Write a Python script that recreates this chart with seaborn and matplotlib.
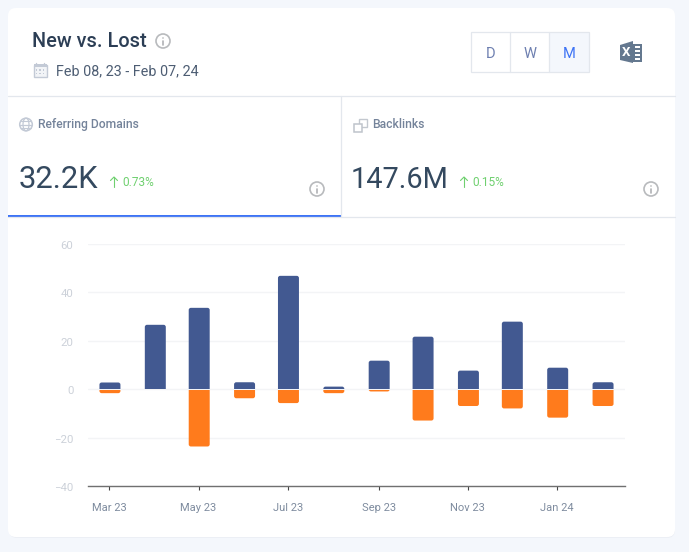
import matplotlib
matplotlib.use('Agg')
import matplotlib.dates as mdates
import matplotlib.pyplot as plt
import pandas as pd
import seaborn as sns
from matplotlib.patches import Circle, Ellipse, FancyBboxPatch, Polygon, Rectangle
from matplotlib.transforms import ScaledTranslation

months = ['2023-03-01', '2023-04-01', '2023-05-01', '2023-06-01', '2023-07-01', '2023-08-01',
          '2023-09-01', '2023-10-01', '2023-11-01', '2023-12-01', '2024-01-01', '2024-02-01']
new_domains = [2.7, 26.5, 33.5, 2.8, 46.7, 1, 11.7, 21.6, 7.6, 27.8, 8.8, 2.8]
lost_domains = [-1.7, 0, -23.7, -3.8, -5.8, -1.7, -1, -13, -7, -8, -11.8, -7]
y_ticks = [-40, -20, 0, 20, 40, 60]

BLUE = '#425991'
ORANGE = '#ff7b1c'
W, H = 689, 552

sns.set_theme(style='white')
plt.rcParams['font.family'] = ['Roboto', 'DejaVu Sans']

df = pd.DataFrame({'month': pd.to_datetime(months), 'new': new_domains, 'lost': lost_domains})
df['day'] = mdates.date2num(df['month'])

fig = plt.figure(figsize=(W / 100, H / 100), dpi=100, facecolor='#f4f7fc')

# page furniture lives on one full size axes, in pixel coordinates
ui = fig.add_axes([0, 0, 1, 1], zorder=0)
ui.set_xlim(0, W)
ui.set_ylim(H, 0)
ui.axis('off')

ui.add_patch(FancyBboxPatch((9, 10), 666, 528, boxstyle='round,pad=0,rounding_size=8',
                            fc='#eceff5', ec='none'))
ui.add_patch(FancyBboxPatch((8, 8), 667, 529, boxstyle='round,pad=0,rounding_size=8',
                            fc='white', ec='none'))

LINE = '#e3e7ed'
ui.plot([8, 675], [96, 96], color=LINE, lw=0.9)
ui.plot([8, 675], [217, 217], color=LINE, lw=0.9)
ui.plot([341, 341], [96, 217], color=LINE, lw=0.9)
ui.add_patch(Rectangle((8, 215), 333, 2, fc='#3d73f5', ec='none'))

DARK = '#2c3e55'
ui.text(32, 46.7, 'New vs. Lost', fontsize=14.3, fontweight='medium', color=DARK)
ui.text(56, 75.3, 'Feb 08, 23 - Feb 07, 24', fontsize=10.4, color='#4d5d73')
ui.text(38, 128.3, 'Referring Domains', fontsize=8.7, fontweight='medium', color='#74839a')
ui.text(372, 128.3, 'Backlinks', fontsize=8.7, fontweight='medium', color='#74839a')
ui.text(18.5, 188, '32.2K', fontsize=22.3, color='#34495f')
ui.text(351, 188, '147.6M', fontsize=20.9, color='#34495f')
ui.text(122, 186, '0.73%', fontsize=8.6, color='#6fd06f')
ui.text(472, 186, '0.15%', fontsize=8.6, color='#6fd06f')


def info_icon(x, y, r=7):
    ui.add_patch(Circle((x, y), r, fc='white', ec='#b8babd', lw=1.2))
    ui.plot([x, x], [y - 0.5, y + 3.5], color='#b0b2b5', lw=1.2)
    ui.add_patch(Circle((x, y - 3), 0.8, fc='#b0b2b5', ec='none'))


def up_arrow(x, y):
    ui.plot([x, x], [y - 5, y + 5], color='#6fd06f', lw=0.8)
    ui.plot([x - 3.5, x, x + 3.5], [y - 1.5, y - 5, y - 1.5], color='#6fd06f', lw=0.8)


info_icon(163, 41)
info_icon(317, 189)
info_icon(651, 189)
up_arrow(114, 182)
up_arrow(464, 182)

# D / W / M switch
ui.add_patch(Rectangle((549, 32), 39.5, 39.5, fc='#f4f7fc', ec='none'))
ui.add_patch(Rectangle((471, 32), 117.5, 39.5, fc='none', ec=LINE, lw=0.9))
ui.plot([510, 510], [32, 71.5], color=LINE, lw=0.9)
ui.plot([549, 549], [32, 71.5], color=LINE, lw=0.9)
for label, x, col in [('D', 491, '#6d7fb0'), ('W', 530, '#6d7fb0'), ('M', 569, '#3d73f5')]:
    ui.text(x, 58, label, fontsize=10.5, color=col, ha='center')

# excel icon
ICON = '#64788f'
ui.add_patch(Rectangle((631, 44), 11, 18, fc=ICON, ec='none'))
for gy in (46, 50, 54, 58):
    ui.add_patch(Rectangle((635, gy), 5, 2.2, fc='white', ec='none'))
ui.add_patch(Polygon([(620, 45), (633, 41), (633, 63), (620, 60)], fc=ICON, ec='none'))
ui.text(626.5, 52.5, 'X', fontsize=9.5, fontweight='bold', color='white', ha='center', va='center')

# calendar icon
ui.add_patch(Rectangle((33.5, 65), 13, 11.5, fc='#f2f4f7', ec='#c3cad6', lw=1))
ui.add_patch(Rectangle((33.5, 64), 13, 3, fc='#c3cad6', ec='none'))
for cx in (36, 44):
    ui.plot([cx, cx], [62.5, 65], color='#c3cad6', lw=1)
for cx in (36.5, 40, 43.5):
    for cy in (70, 73.5):
        ui.add_patch(Rectangle((cx - 0.7, cy - 0.7), 1.4, 1.4, fc='#c3cad6', ec='none'))

# globe icon
ui.add_patch(Circle((26, 124.5), 6.3, fc='none', ec='#c3cad6', lw=1.1))
ui.add_patch(Ellipse((26, 124.5), 6, 12.6, fc='none', ec='#c3cad6', lw=0.9))
ui.plot([19.7, 32.3], [124.5, 124.5], color='#c3cad6', lw=0.9)
ui.plot([21, 31], [121, 121], color='#c3cad6', lw=0.8)
ui.plot([21, 31], [128, 128], color='#c3cad6', lw=0.8)

# backlinks icon
ui.add_patch(Rectangle((358.5, 118.5), 8, 8, fc='none', ec='#c3c8cf', lw=1))
ui.add_patch(Rectangle((353.5, 123.5), 8, 8, fc='white', ec='#bfc4cb', lw=1.1))

# chart, bars sit on a real date scale so months keep their uneven spacing
left, right, top, bottom = 88, 625, 243.6, 486
ax = fig.add_axes([left / W, 1 - bottom / H, (right - left) / W, (bottom - top) / H],
                  zorder=1, facecolor='none')

sns.barplot(data=df, x='day', y='new', color=BLUE, saturation=1, width=0.478,
            native_scale=True, ax=ax)
sns.barplot(data=df, x='day', y='lost', color=ORANGE, saturation=1, width=0.478,
            native_scale=True, ax=ax)

x_start = df['day'].iloc[0] - 15
x_end = df['day'].iloc[0] + 352
ax.set_xlim(x_start, x_end)
ax.set_ylim(-40, 60)

# swap the square bars for ones with rounded outer corners
px_x = (right - left) / (x_end - x_start)
px_y = (bottom - top) / 100
radius = 2.2
for bar in list(ax.patches):
    h = bar.get_height()
    bar.set_visible(False)
    if h == 0:
        continue
    x, w = bar.get_x(), bar.get_width()
    ext = radius / px_y
    sign = 1 if h > 0 else -1
    y0 = min(-sign * ext, h)
    box = FancyBboxPatch((x, y0), w, abs(h) + ext,
                         boxstyle=f'round,pad=0,rounding_size={radius / px_x}',
                         mutation_aspect=px_x / px_y,
                         fc=bar.get_facecolor(), ec='none', zorder=3)
    ax.add_patch(box)
    # keep the side at the zero line square, with a hairline gap
    clip_y = 0.2 if h > 0 else -100
    clip = Rectangle((x_start, clip_y), x_end - x_start, 99.8, transform=ax.transData)
    box.set_clip_path(clip)

ax.set_yticks(y_ticks)
tick_rows = df.iloc[::2]
ax.set_xticks(tick_rows['day'] - 0.4)
ax.set_xticklabels(tick_rows['month'].dt.strftime('%b %y'))
ax.set_xlabel('')
ax.set_ylabel('')
ax.grid(axis='y', color='#f3f4f6', lw=1)
ax.set_axisbelow(True)
sns.despine(ax=ax, left=True)
ax.spines['bottom'].set_color('#707070')
ax.spines['bottom'].set_linewidth(1)
ax.tick_params(axis='y', length=0, pad=10.5, labelsize=8.2, labelcolor='#ccd1d9')
ax.tick_params(axis='x', bottom=True, length=3, width=0.8, color='#444444', pad=9.5,
               labelsize=8, labelcolor='#7f8c9f')

nudge = ScaledTranslation(0, -1 / 100, fig.dpi_scale_trans)
for label in ax.get_yticklabels():
    label.set_transform(label.get_transform() + nudge)

fig.savefig('out.png', dpi=100, facecolor=fig.get_facecolor())
